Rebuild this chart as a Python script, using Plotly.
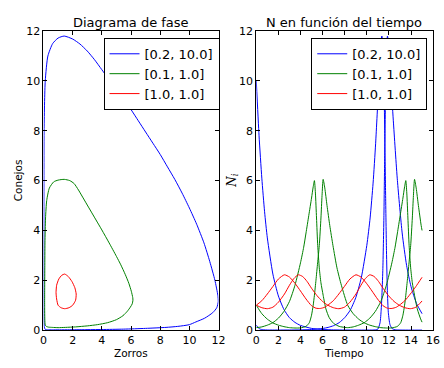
import plotly.graph_objects as go

# ---- Phase diagram: foxes (x) vs rabbits (y) for each initial condition ----
labels = ["[0.2, 10.0]", "[0.1, 1.0]", "[1.0, 1.0]"]
colors = ["#0000ff", "#008000", "#ff0000"]

phase_fox_blue = [10.0, 9.2, 8.4, 7.0, 5.5, 4.0, 2.8, 1.8, 1.1, 0.6, 0.3, 0.12, 0.05, 0.03,
                  0.025, 0.03, 0.04, 0.12, 0.3, 0.63, 1.0, 1.42, 2.0, 2.5, 3.0, 3.5, 4.0, 4.5,
                  5.0, 5.5, 6.0, 6.5, 7.0, 7.5, 8.0, 8.5, 9.0, 9.5, 10.0, 10.5, 11.0, 11.4,
                  11.75, 11.95, 11.98, 11.88, 11.6, 11.05, 10.45, 10.0]
phase_rab_blue = [0.22, 0.15, 0.11, 0.07, 0.04, 0.025, 0.018, 0.014, 0.012, 0.012, 0.012, 0.03,
                  0.15, 1.0, 3.0, 6.0, 8.0, 10.0, 11.0, 11.5, 11.72, 11.8, 11.68, 11.48, 11.2,
                  10.85, 10.45, 10.05, 9.65, 9.25, 8.85, 8.4, 7.95, 7.5, 7.05, 6.55, 6.05, 5.5,
                  4.9, 4.25, 3.5, 2.75, 2.0, 1.4, 1.15, 0.9, 0.7, 0.48, 0.33, 0.22]

phase_fox_green = [1.0, 0.6, 0.35, 0.2, 0.12, 0.09, 0.08, 0.08, 0.09, 0.1, 0.14, 0.22, 0.4,
                   0.7, 1.0, 1.42, 1.8, 2.1, 2.4, 2.8, 3.2, 3.6, 4.0, 4.5, 5.0, 5.3, 5.6, 5.85,
                   6.02, 6.12, 6.13, 6.08, 5.95, 5.75, 5.45, 5.0, 4.4, 3.7, 3.0, 2.2, 1.5, 1.0]
phase_rab_green = [0.1, 0.11, 0.12, 0.15, 0.2, 0.45, 0.9, 1.5, 2.5, 3.5, 4.5, 5.2, 5.7, 5.95,
                   6.02, 6.05, 6.0, 5.88, 5.62, 5.22, 4.82, 4.42, 4.02, 3.5, 2.96, 2.62, 2.24,
                   1.88, 1.56, 1.3, 1.2, 1.05, 0.92, 0.76, 0.58, 0.42, 0.3, 0.22, 0.17, 0.13,
                   0.11, 0.1]

phase_fox_red = [1.0, 0.9, 0.86, 0.9, 1.05, 1.25, 1.45, 1.7, 1.95, 2.15, 2.24, 2.2, 2.0,
                 1.75, 1.45, 1.2, 1.0]
phase_rab_red = [1.0, 1.25, 1.5, 1.8, 2.05, 2.2, 2.25, 2.15, 1.95, 1.7, 1.45, 1.2, 1.0, 0.9,
                 0.86, 0.9, 1.0]

# ---- Populations vs time ----
t_blue_rab = [0, 0.2, 0.4, 0.7, 1.0, 2.0, 3.0, 4.0, 5.0, 6.0, 6.5, 7.0, 7.5, 8.0, 8.5, 9.0,
              9.5, 10.0, 10.3, 10.57, 10.8, 11.07, 11.2, 11.36, 11.45, 11.55, 11.62, 11.7,
              11.78, 11.86, 11.95, 12.1, 12.3, 12.6, 13.0, 14.0, 15.0]
n_blue_rab = [0.2, 0.08, 0.035, 0.012, 0.006, 0.004, 0.005, 0.01, 0.024, 0.066, 0.11, 0.18,
              0.3, 0.5, 0.8, 1.3, 2.1, 3.4, 4.5, 5.9, 7.5, 9.8, 10.9, 11.8, 11.5, 10.0, 8.0,
              5.5, 3.2, 1.6, 0.7, 0.22, 0.06, 0.015, 0.004, 0.001, 0.0005]

t_blue_fox = [0, 0.25, 0.5, 0.75, 1.0, 1.5, 2.0, 2.5, 3.0, 3.5, 4.0, 5.0, 6.0, 7.0, 8.0, 9.0,
              10.0, 10.5, 10.8, 11.0, 11.2, 11.3, 11.36, 11.45, 11.55, 11.62, 11.7, 11.78,
              11.87, 11.97, 12.08, 12.18, 12.4, 12.77, 13.2, 13.6, 14.0, 14.5, 15.0]
n_blue_fox = [10.0, 7.8, 6.1, 4.75, 3.7, 2.25, 1.37, 0.83, 0.5, 0.31, 0.19, 0.07, 0.026, 0.01,
              0.004, 0.002, 0.002, 0.004, 0.012, 0.04, 0.3, 0.8, 1.3, 2.4, 4.6, 7.0, 9.5,
              11.2, 11.8, 11.5, 10.8, 10.0, 8.4, 6.0, 3.9, 2.6, 1.75, 1.07, 0.66]

t_green_rab = [0, 0.5, 1.0, 1.5, 2.0, 2.5, 3.0, 3.5, 4.0, 4.29, 4.5, 4.75, 5.0, 5.15, 5.26,
               5.35, 5.45, 5.56, 5.7, 5.85, 6.05, 6.3, 6.6, 7.0, 7.5, 8.0, 8.27, 8.77, 9.27,
               9.77, 10.27, 10.77, 11.27, 11.77, 12.27, 12.56, 12.77, 13.02, 13.27, 13.42,
               13.53, 13.62, 13.72, 13.83, 13.97, 14.12, 14.32, 14.57, 14.87, 15.0]
n_green_rab = [0.1, 0.13, 0.2, 0.3, 0.48, 0.75, 1.15, 1.8, 2.7, 3.33, 3.9, 4.6, 5.3, 5.75, 6.0,
               5.5, 4.5, 3.39, 2.5, 1.9, 1.4, 0.85, 0.5, 0.27, 0.15, 0.11, 0.1, 0.13, 0.2,
               0.3, 0.48, 0.75, 1.15, 1.8, 2.7, 3.33, 3.9, 4.6, 5.3, 5.75, 6.0, 5.5, 4.5,
               3.39, 2.5, 1.9, 1.4, 0.85, 0.45, 0.32]

t_green_fox = [0, 0.5, 1.0, 1.5, 2.0, 2.5, 3.0, 3.5, 4.0, 4.5, 4.8, 5.0, 5.15, 5.26, 5.4,
               5.55, 5.7, 5.85, 5.95, 6.05, 6.2, 6.4, 6.65, 6.94, 7.3, 7.7, 8.27, 8.77, 9.27,
               9.77, 10.27, 10.77, 11.27, 11.77, 12.27, 12.77, 13.07, 13.27, 13.42, 13.53,
               13.67, 13.82, 13.97, 14.12, 14.22, 14.32, 14.47, 14.67, 14.92, 15.0]
n_green_fox = [1.0, 0.66, 0.44, 0.29, 0.2, 0.14, 0.1, 0.085, 0.09, 0.15, 0.3, 0.6, 1.0, 1.4,
               2.0, 2.7, 3.39, 4.5, 5.4, 6.05, 5.7, 5.0, 4.2, 3.39, 2.5, 1.8, 1.0, 0.66, 0.44,
               0.29, 0.2, 0.14, 0.1, 0.085, 0.09, 0.15, 0.3, 0.6, 1.0, 1.4, 2.0, 2.7, 3.39,
               4.5, 5.4, 6.05, 5.7, 5.0, 4.2, 4.0]

t_red_rab = [0, 0.5, 1.0, 1.5, 2.0, 2.55, 3.0, 3.5, 4.0, 4.5, 5.0, 5.4, 5.8, 6.2, 6.47, 6.97,
             7.47, 7.97, 8.47, 9.02, 9.47, 9.97, 10.47, 10.97, 11.47, 11.87, 12.27, 12.67,
             12.94, 13.44, 13.94, 14.44, 15.0]
n_red_rab = [1.0, 1.18, 1.45, 1.75, 2.05, 2.22, 2.13, 1.88, 1.57, 1.25, 0.98, 0.88, 0.87, 0.92,
             1.0, 1.18, 1.45, 1.75, 2.05, 2.22, 2.13, 1.88, 1.57, 1.25, 0.98, 0.88, 0.87, 0.92,
             1.0, 1.18, 1.45, 1.75, 2.12]

t_red_fox = [0, 0.5, 1.0, 1.5, 2.0, 2.55, 3.0, 3.4, 3.8, 4.2, 4.6, 5.0, 5.5, 6.0, 6.47, 6.97,
             7.47, 7.97, 8.47, 9.02, 9.47, 9.87, 10.27, 10.67, 11.07, 11.47, 11.97, 12.47,
             12.94, 13.44, 13.94, 14.44, 15.0]
n_red_fox = [1.0, 0.9, 0.86, 0.92, 1.12, 1.45, 1.8, 2.07, 2.22, 2.15, 1.95, 1.68, 1.38, 1.15,
             1.0, 0.9, 0.86, 0.92, 1.12, 1.45, 1.8, 2.07, 2.22, 2.15, 1.95, 1.68, 1.38, 1.15,
             1.0, 0.9, 0.86, 0.92, 1.17]

phase = [(phase_fox_blue, phase_rab_blue), (phase_fox_green, phase_rab_green),
         (phase_fox_red, phase_rab_red)]
series = [((t_blue_rab, n_blue_rab), (t_blue_fox, n_blue_fox)),
          ((t_green_rab, n_green_rab), (t_green_fox, n_green_fox)),
          ((t_red_rab, n_red_rab), (t_red_fox, n_red_fox))]

FONT = "DejaVu Sans"
fig = go.Figure()

for i, (px, py) in enumerate(phase):
    fig.add_trace(go.Scatter(
        x=px, y=py, mode="lines", name=labels[i],
        line=dict(color=colors[i], width=1, shape="spline", smoothing=0.6),
        xaxis="x", yaxis="y", legend="legend"))

for i, pair in enumerate(series):
    for j, (tt, nn) in enumerate(pair):
        fig.add_trace(go.Scatter(
            x=tt, y=nn, mode="lines", name=labels[i], showlegend=(j == 0),
            line=dict(color=colors[i], width=1, shape="spline", smoothing=0.6),
            xaxis="x2", yaxis="y2", legend="legend2"))

W, H = 444, 368
axis_style = dict(showline=True, linecolor="black", linewidth=1, mirror="ticks",
                  ticks="inside", ticklen=4, tickcolor="black", showgrid=False,
                  zeroline=False, tickfont=dict(family=FONT, size=11, color="black"))

y_dom = [32 / H, 342 / H]
fig.update_layout(
    width=W, height=H,
    margin=dict(l=0, r=0, t=0, b=0),
    paper_bgcolor="white", plot_bgcolor="white",
    font=dict(family=FONT, color="black"),
    xaxis=dict(domain=[40.5 / W, 220 / W], range=[0, 12], dtick=2, anchor="y", **axis_style),
    yaxis=dict(domain=y_dom, range=[0, 12], dtick=2, anchor="x", **axis_style),
    xaxis2=dict(domain=[258.7 / W, 440 / W], range=[0, 16], dtick=2, anchor="y2",
                **axis_style),
    yaxis2=dict(domain=y_dom, range=[0, 12], dtick=2, anchor="x2", **axis_style),
    legend=dict(x=221 / W, y=1 - 33 / H, xanchor="right", yanchor="top",
                bordercolor="black", borderwidth=1, bgcolor="white",
                font=dict(family=FONT, size=13, color="black")),
    legend2=dict(x=434 / W, y=1 - 33 / H, xanchor="right", yanchor="top",
                 bordercolor="black", borderwidth=1, bgcolor="white",
                 font=dict(family=FONT, size=13, color="black")),
    showlegend=True,
)

ann = [
    dict(text="Diagrama de fase", x=130 / W, y=1 - 17 / H, size=13),
    dict(text="N en función del tiempo", x=349 / W, y=1 - 17 / H, size=13),
    dict(text="Zorros", x=130 / W, y=1 - 360 / H, size=10.5),
    dict(text="Tiempo", x=349 / W, y=1 - 360 / H, size=10.5),
]
for a in ann:
    fig.add_annotation(text=a["text"], x=a["x"], y=a["y"], xref="paper", yref="paper",
                       showarrow=False, xanchor="center", yanchor="middle",
                       font=dict(family=FONT, size=a["size"], color="black"))
fig.add_annotation(text="Conejos", x=14 / W, y=1 - 181 / H, xref="paper", yref="paper",
                   showarrow=False, textangle=-90, xanchor="center", yanchor="middle",
                   font=dict(family=FONT, size=10.5, color="black"))
fig.add_annotation(text="<i>N<sub>i</sub></i>", x=234 / W, y=1 - 181 / H, xref="paper",
                   yref="paper", showarrow=False, textangle=-90, xanchor="center",
                   yanchor="middle", font=dict(family="DejaVu Serif", size=12, color="black"))

fig.write_html("out.html", config={"displayModeBar": False})
